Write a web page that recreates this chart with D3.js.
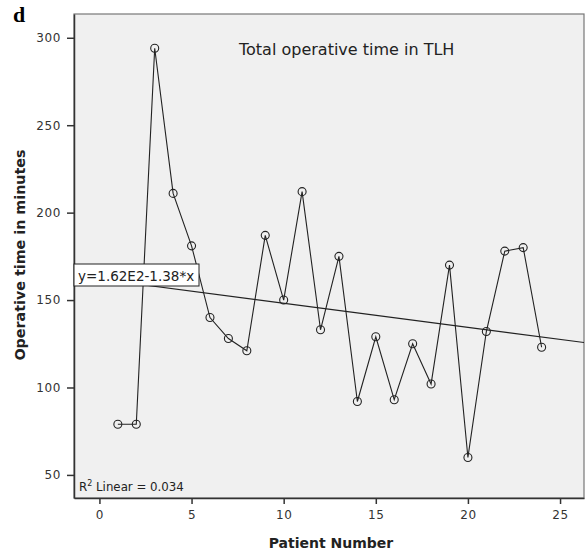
<!DOCTYPE html>
<html>
<head>
<meta charset="utf-8">
<script src="https://cdn.jsdelivr.net/npm/d3@7"></script>
<style>
  html, body { margin: 0; padding: 0; background: #fff; }
  svg { display: block; }
</style>
</head>
<body>
<svg id="chart" width="585" height="555"></svg>
<script>
// Operative time (minutes) for each consecutive TLH patient
const patients = [1, 2, 3, 4, 5, 6, 7, 8, 9, 10, 11, 12, 13, 14, 15, 16, 17, 18, 19, 20, 21, 22, 23, 24];
const minutes  = [79, 79, 294, 211, 181, 140, 128, 121, 187, 150, 212, 133, 175, 92, 129, 93, 125, 102, 170, 60, 132, 178, 180, 123];

// Linear fit coefficients
const fitIntercept = 162;
const fitSlope = -1.38;
const fitLabel = "y=1.62E2-1.38*x";
const r2 = "0.034";

const xTicks = [0, 5, 10, 15, 20, 25];
const yTicks = [50, 100, 150, 200, 250, 300];

const svg = d3.select("#chart");
const plot = { left: 74, top: 14, right: 584, bottom: 498 };

const x = d3.scaleLinear().domain([-1.38, 26.3]).range([plot.left, plot.right]);
const y = d3.scaleLinear().domain([36.8, 313.6]).range([plot.bottom, plot.top]);

const font = "'DejaVu Sans', sans-serif";

// Plot area
svg.append("rect")
  .attr("x", plot.left).attr("y", plot.top)
  .attr("width", plot.right - plot.left).attr("height", plot.bottom - plot.top)
  .attr("fill", "#f0f0f0").attr("stroke", "#777").attr("stroke-width", 1.2);

svg.append("clipPath").attr("id", "plotClip")
  .append("rect")
  .attr("x", plot.left).attr("y", plot.top)
  .attr("width", plot.right - plot.left).attr("height", plot.bottom - plot.top);

// Axes
const xAxis = svg.append("g")
  .attr("transform", `translate(0,${plot.bottom})`)
  .call(d3.axisBottom(x).tickValues(xTicks).tickSize(6).tickSizeOuter(0).tickPadding(6));
const yAxis = svg.append("g")
  .attr("transform", `translate(${plot.left},0)`)
  .call(d3.axisLeft(y).tickValues(yTicks).tickSize(7).tickSizeOuter(0).tickPadding(6));

[xAxis, yAxis].forEach(g => {
  g.select(".domain").attr("stroke", "#333").attr("stroke-width", 1.5);
  g.selectAll(".tick line").attr("stroke", "#333").attr("stroke-width", 1.5);
  g.selectAll(".tick text").attr("fill", "#333")
    .style("font-family", font).style("font-size", "12px")
    .style("letter-spacing", "0.6px");
});

// Fit line
svg.append("line")
  .attr("clip-path", "url(#plotClip)")
  .attr("x1", x(x.domain()[0])).attr("y1", y(fitIntercept + fitSlope * x.domain()[0]))
  .attr("x2", x(x.domain()[1])).attr("y2", y(fitIntercept + fitSlope * x.domain()[1]))
  .attr("stroke", "#222").attr("stroke-width", 1.1);

// Series line
const pts = patients.map((p, i) => [p, minutes[i]]);
svg.append("path")
  .datum(pts)
  .attr("fill", "none").attr("stroke", "#222").attr("stroke-width", 1.1)
  .attr("d", d3.line().x(d => x(d[0])).y(d => y(d[1])));

// Markers
svg.append("g").selectAll("circle")
  .data(pts).join("circle")
  .attr("cx", d => x(d[0])).attr("cy", d => y(d[1]))
  .attr("r", 4)
  .attr("fill", "none").attr("stroke", "#222").attr("stroke-width", 1.1);

// Equation label box
const eq = svg.append("g");
eq.append("rect")
  .attr("x", plot.left).attr("y", 264)
  .attr("width", 125).attr("height", 22)
  .attr("fill", "#fff").attr("stroke", "#222").attr("stroke-width", 1);
eq.append("text")
  .attr("x", plot.left + 4).attr("y", 281)
  .style("font-family", font).style("font-size", "13.5px").attr("fill", "#222")
  .text(fitLabel);

// R squared annotation
const r2Text = svg.append("text")
  .attr("x", 79).attr("y", 491)
  .style("font-family", font).style("font-size", "11.8px").attr("fill", "#222");
r2Text.append("tspan").text("R");
r2Text.append("tspan").attr("dy", -5).style("font-size", "8px").text("2");
r2Text.append("tspan").attr("dy", 5).text(" Linear = " + r2);

// Chart title
svg.append("text")
  .attr("x", 239).attr("y", 55)
  .style("font-family", font).style("font-size", "16px").attr("fill", "#222")
  .text("Total operative time in TLH");

// Axis titles
svg.append("text")
  .attr("x", 331).attr("y", 548)
  .attr("text-anchor", "middle")
  .style("font-family", font).style("font-size", "14px").style("font-weight", "bold").attr("fill", "#222")
  .text("Patient Number");

svg.append("text")
  .attr("transform", "translate(25,255) rotate(-90)")
  .attr("text-anchor", "middle")
  .style("font-family", font).style("font-size", "14.3px").style("font-weight", "bold").attr("fill", "#222")
  .text("Operative time in minutes");

// Panel letter
svg.append("text")
  .attr("x", 13).attr("y", 22)
  .style("font-family", "'Liberation Serif', 'Times New Roman', serif")
  .style("font-size", "22px").style("font-weight", "bold").attr("fill", "#000")
  .text("d");
</script>
</body>
</html>
